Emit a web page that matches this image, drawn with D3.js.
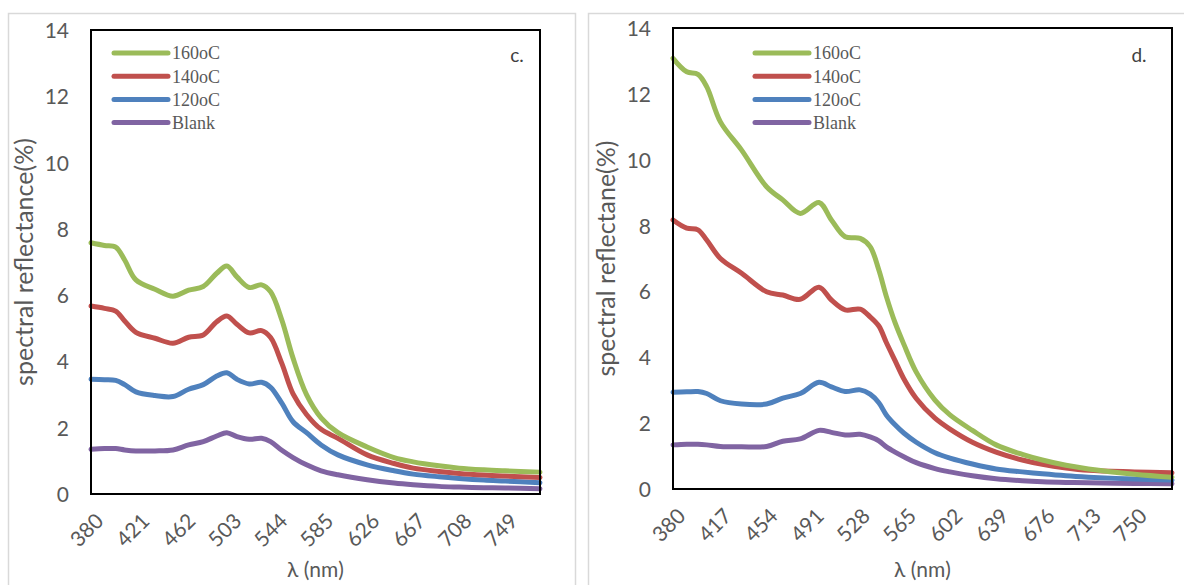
<!DOCTYPE html>
<html lang="en">
<head>
<meta charset="UTF-8">
<title>Spectral reflectance</title>
<script src="https://d3js.org/d3.v7.min.js"></script>
<style>
  body { margin: 0; background: #fff; }
  svg { display: block; }
  .tick text { font-family: Lato, "Open Sans", sans-serif; font-size: 21px; fill: #595959; }
</style>
</head>
<body>
<script>
// series names and colours
const seriesNames = ["160oC", "140oC", "120oC", "Blank"];
const seriesColors = ["#9bbb59", "#c0504d", "#4f81bd", "#8064a2"];
const yTicks = [0, 2, 4, 6, 8, 10, 12, 14];

// panel c.
const wlC = [380,392,402,410,420,437,453,467,480,492,501,510,521,532,540,550,560,572,585,600,626,650,667,690,708,730,749,780];
const c160 = [7.58,7.50,7.45,7.06,6.46,6.18,5.97,6.15,6.26,6.66,6.88,6.55,6.23,6.31,6.10,5.25,4.10,3.00,2.30,1.85,1.42,1.10,0.97,0.85,0.78,0.73,0.70,0.66];
const c140 = [5.67,5.60,5.52,5.22,4.88,4.70,4.55,4.73,4.80,5.20,5.37,5.12,4.86,4.93,4.72,3.94,3.02,2.40,1.95,1.68,1.18,0.92,0.78,0.68,0.62,0.57,0.54,0.50];
const c120 = [3.46,3.45,3.43,3.30,3.08,2.97,2.94,3.16,3.30,3.56,3.66,3.46,3.32,3.37,3.22,2.74,2.18,1.85,1.48,1.18,0.88,0.70,0.60,0.52,0.47,0.42,0.39,0.34];
const cBlank = [1.35,1.37,1.37,1.33,1.30,1.30,1.33,1.48,1.58,1.75,1.85,1.73,1.65,1.68,1.58,1.32,1.10,0.88,0.70,0.58,0.43,0.33,0.28,0.23,0.21,0.19,0.18,0.16];
const xTicksC = [380,421,462,503,544,585,626,667,708,749];

// panel d.
const wlD = [380,391,400,407,418,435,455,468,482,497,507,518,530,538,545,551,558,565,575,590,602,620,639,660,676,695,713,750,780];
const d160 = [13.08,12.67,12.59,12.22,11.15,10.29,9.18,8.78,8.37,8.70,8.17,7.66,7.61,7.36,6.65,5.85,5.05,4.40,3.55,2.70,2.25,1.78,1.34,1.05,0.88,0.72,0.61,0.45,0.36];
const d140 = [8.17,7.92,7.87,7.56,7.00,6.55,5.99,5.89,5.76,6.13,5.74,5.44,5.46,5.23,4.95,4.45,3.90,3.35,2.75,2.15,1.82,1.42,1.12,0.88,0.75,0.64,0.57,0.52,0.49];
const d120 = [2.94,2.95,2.96,2.90,2.68,2.58,2.58,2.76,2.90,3.24,3.10,2.96,3.01,2.88,2.62,2.25,1.95,1.70,1.42,1.10,0.94,0.76,0.61,0.52,0.46,0.40,0.36,0.30,0.27];
const dBlank = [1.34,1.36,1.36,1.34,1.29,1.28,1.29,1.45,1.52,1.78,1.72,1.64,1.66,1.58,1.46,1.28,1.12,0.98,0.80,0.62,0.52,0.40,0.31,0.25,0.22,0.20,0.19,0.17,0.16];
const xTicksD = [380,417,454,491,528,565,602,639,676,713,750];

const width = 1184, height = 585;
const svg = d3.select("body").append("svg")
  .attr("width", width)
  .attr("height", height);

function drawPanel(p) {
  const g = svg.append("g");

  // chart frame
  g.append("rect")
    .attr("x", p.frame[0] + 0.5).attr("y", 13.5)
    .attr("width", p.frame[1] - p.frame[0]).attr("height", 600)
    .attr("fill", "#fff").attr("stroke", "#d9d9d9").attr("stroke-width", 1.5);

  const x = d3.scaleLinear().domain([380, 780]).range([p.left, p.right]);
  const y = d3.scaleLinear().domain([0, 14]).range([p.bottom, p.top]);

  // y axis labels
  const ya = g.append("g")
    .attr("transform", `translate(${p.left - 22},0)`)
    .call(d3.axisLeft(y).tickValues(yTicks).tickSize(0).tickPadding(0));
  ya.select(".domain").remove();
  ya.selectAll(".tick text").attr("dy", "0.36em");

  // x axis labels, rotated like the category axis
  const xa = g.append("g")
    .attr("transform", `translate(0,${p.bottom})`)
    .call(d3.axisBottom(x).tickValues(p.xTicks).tickSize(0).tickFormat(d3.format("d")));
  xa.select(".domain").remove();
  xa.selectAll(".tick text")
    .attr("text-anchor", "end")
    .attr("dy", "0.35em")
    .attr("transform", "translate(6,21) rotate(-45)");

  const line = d3.line()
    .x((d, i) => x(p.wl[i]))
    .y(d => y(d))
    .curve(d3.curveCatmullRom.alpha(0.5));

  // draw Blank first so the hotter series sit on top
  p.series.slice().reverse().forEach((s, k) => {
    const idx = p.series.length - 1 - k;
    g.append("path")
      .datum(s)
      .attr("d", line)
      .attr("fill", "none")
      .attr("stroke", seriesColors[idx])
      .attr("stroke-width", 5)
      .attr("stroke-linejoin", "round")
      .attr("stroke-linecap", "round");
  });

  // plot area border
  g.append("rect")
    .attr("x", p.left).attr("y", p.top)
    .attr("width", p.right - p.left).attr("height", p.bottom - p.top)
    .attr("fill", "none").attr("stroke", "#000").attr("stroke-width", 2);

  // legend
  const lg = g.append("g");
  seriesNames.forEach((name, i) => {
    const ly = p.legend[1] + i * 23.2;
    lg.append("line")
      .attr("x1", p.legend[0]).attr("x2", p.legend[0] + 54)
      .attr("y1", ly).attr("y2", ly)
      .attr("stroke", seriesColors[i]).attr("stroke-width", 5)
      .attr("stroke-linecap", "round");
    lg.append("text")
      .attr("x", p.legend[0] + 58).attr("y", ly)
      .attr("dy", "0.35em")
      .attr("font-family", "'Liberation Serif', 'Times New Roman', serif")
      .attr("font-size", 18)
      .attr("fill", "#595959")
      .text(name);
  });

  // panel letter
  g.append("text")
    .attr("x", p.letterX).attr("y", 62)
    .attr("text-anchor", "middle")
    .attr("font-family", "Lato, 'Open Sans', sans-serif")
    .attr("font-size", 19)
    .attr("fill", "#404040")
    .text(p.letter);

  // axis titles
  g.append("text")
    .attr("transform", `translate(${p.left - 58},${(p.top + p.bottom) / 2}) rotate(-90)`)
    .attr("text-anchor", "middle")
    .attr("font-family", "Lato, 'Open Sans', sans-serif")
    .attr("font-size", 25)
    .attr("fill", "#595959")
    .text(p.yTitle);

  g.append("text")
    .attr("x", (p.left + p.right) / 2).attr("y", 577)
    .attr("text-anchor", "middle")
    .attr("font-family", "Lato, 'Open Sans', sans-serif")
    .attr("font-size", 21)
    .attr("fill", "#595959")
    .text("λ (nm)");
}

drawPanel({
  frame: [8, 575], left: 91, right: 540, top: 30, bottom: 494,
  wl: wlC, series: [c160, c140, c120, cBlank], xTicks: xTicksC,
  legend: [114, 53], letter: "c.", letterX: 517, yTitle: "spectral reflectance(%)"
});

drawPanel({
  frame: [588, 1200], left: 673, right: 1172, top: 28, bottom: 489,
  wl: wlD, series: [d160, d140, d120, dBlank], xTicks: xTicksD,
  legend: [755, 53], letter: "d.", letterX: 1139, yTitle: "spectral reflectane(%)"
});
</script>
</body>
</html>
